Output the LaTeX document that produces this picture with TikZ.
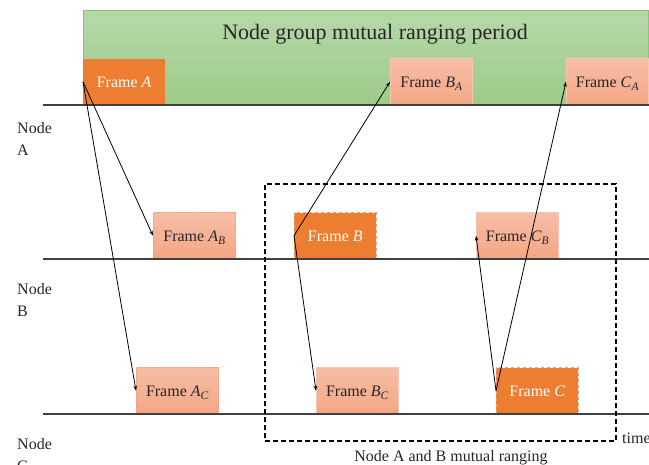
\documentclass[tikz,border=0pt]{standalone}
\usepackage{fontspec}
\setmainfont{Liberation Serif}
\usetikzlibrary{arrows.meta}

\definecolor{orangeframe}{HTML}{ED7D31}
\definecolor{salmontop}{HTML}{F6BEA6}
\definecolor{salmonbot}{HTML}{F4A684}
\definecolor{salmonedge}{HTML}{F2A07C}
\definecolor{greentop}{HTML}{B6D8A9}
\definecolor{greenbot}{HTML}{9ECB88}
\definecolor{greenedge}{HTML}{8CC275}
\definecolor{axisgray}{HTML}{404040}
\definecolor{textdark}{HTML}{262626}

% frame label with italic letter and optional subscript
\newcommand{\frlabel}[2]{Frame \textit{#1}\raisebox{-0.4ex}{\fontsize{11.5}{11.5}\selectfont\textit{#2}}}

\tikzset{
  txt/.style={font=\fontsize{16}{22}\selectfont, text=textdark, inner sep=0pt},
  framebox/.style={anchor=south west, minimum width=82pt, minimum height=46pt,
    inner sep=0pt, text height=14pt, text depth=2pt, font=\fontsize{16}{16}\selectfont},
  ownframe/.style={framebox, fill=orangeframe, text=white},
  ownframedash/.style={ownframe, draw=salmonedge, dashed, line width=0.6pt},
  echoframe/.style={framebox, top color=salmontop, bottom color=salmonbot,
    draw=salmonedge!60, line width=0.5pt, text=textdark},
  echoframedash/.style={echoframe, draw=salmonedge, dashed, dash pattern=on 2pt off 1.5pt},
  axis/.style={draw=axisgray, line width=1.1pt},
  msg/.style={draw=black, line width=0.8pt, -{Stealth[length=5pt,width=3.5pt]}},
  window/.style={draw=black, line width=1.6pt, dash pattern=on 5pt off 3pt},
}

\begin{document}
\begin{tikzpicture}[x=1pt,y=-1pt]
\useasboundingbox (0,0) rectangle (649,465);

% ranging period band
\node[anchor=north west, minimum width=565pt, minimum height=95pt, inner sep=0pt,
      top color=greentop, bottom color=greenbot, draw=greenedge, line width=0.5pt]
      (period) at (83,10) {};
\node[font=\fontsize{22}{22}\selectfont, text=textdark, inner sep=0pt] (title) at (375,34)
      {Node group mutual ranging period};

% frames on node A
\node[ownframe]  (fA)  at (83,105)  {\frlabel{A}{}};
\node[echoframe] (fBA) at (390,105) {\frlabel{B}{A}};
\node[echoframe] (fCA) at (566,105) {\frlabel{C}{A}};

% frames on node B
\node[echoframedash] (fAB) at (153,259) {\frlabel{A}{B}};
\node[ownframedash]  (fB)  at (294,259) {\frlabel{B}{}};
\node[echoframe]     (fCB) at (476,259) {\frlabel{C}{B}};

% frames on node C
\node[echoframedash] (fAC) at (136,414) {\frlabel{A}{C}};
\node[echoframe]     (fBC) at (316,414) {\frlabel{B}{C}};
\node[ownframedash]  (fC)  at (496,414) {\frlabel{C}{}};

% time axes
\coordinate (aL) at (43,105);  \coordinate (aR) at (649,105);
\coordinate (bL) at (43,259);  \coordinate (bR) at (649,259);
\coordinate (cL) at (43,414);  \coordinate (cR) at (649,414);
\draw[axis] (aL) -- (aR);
\draw[axis] (bL) -- (bR);
\draw[axis] (cL) -- (cR);

% node names
\node[txt, anchor=north west, align=left] (nA) at (17,122) {Node\\A};
\node[txt, anchor=north west, align=left] (nB) at (17,283) {Node\\B};
\node[txt, anchor=north west, align=left] (nC) at (17,438) {Node\\C};
\node[txt, anchor=west] (time) at (622,438) {time};

% A and B mutual ranging window
\node[window, anchor=north west, minimum width=351pt, minimum height=257pt, inner sep=0pt]
      (win) at (264,183) {};
\node[txt, anchor=north] (winlabel) at (451,450) {Node A and B mutual ranging};

% messages
\draw[msg] (fA.west) -- (fAB.west);
\draw[msg] (fA.west) -- (fAC.west);
\draw[msg] (fB.west) -- (fBA.west);
\draw[msg] (fB.west) -- (fBC.west);
\draw[msg] (fC.west) -- (fCB.west);
\draw[msg] (fC.west) -- (fCA.west);
\end{tikzpicture}
\end{document}
